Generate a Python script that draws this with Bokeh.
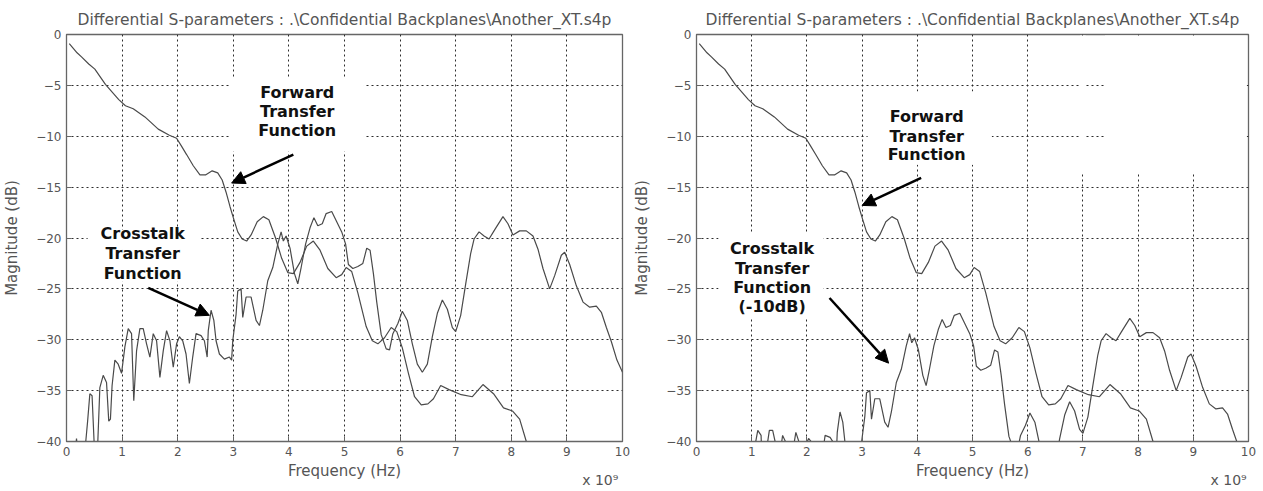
from bokeh.plotting import figure
from bokeh.layouts import row
from bokeh.models import Arrow, NormalHead, Label, FixedTicker, Range1d, LinearAxis
from bokeh.embed import file_html
from bokeh.resources import INLINE

TITLE = "Differential S-parameters : .\\Confidential Backplanes\\Another_XT.s4p"
X_LABEL = "Frequency (Hz)"
Y_LABEL = "Magnitude (dB)"
X_SCALE_NOTE = "x 10\u2079"
X_TICKS = list(range(0, 11))
Y_TICKS = list(range(-40, 1, 5))

# Forward transfer function (dB) vs frequency (GHz)
fwd_freq = [0.05, 0.19, 0.27, 0.40, 0.51, 0.70, 0.94, 1.06, 1.20, 1.41, 1.65, 1.85, 1.98,
            2.06, 2.16, 2.28, 2.40, 2.50, 2.62, 2.72, 2.80, 2.87, 2.94, 3.00, 3.08, 3.16,
            3.24, 3.32, 3.43, 3.54, 3.64, 3.76, 3.87, 3.98, 4.08, 4.20, 4.32, 4.44, 4.56,
            4.70, 4.85, 4.95, 5.03, 5.13, 5.24, 5.39, 5.50, 5.60, 5.72, 5.84, 5.94, 6.04,
            6.15, 6.26, 6.38, 6.50, 6.60, 6.73, 6.88, 7.10, 7.30, 7.49, 7.68, 7.86, 8.02,
            8.15, 8.27, 8.32]
fwd_db = [-0.9, -1.8, -2.2, -2.9, -3.4, -4.9, -6.4, -7.0, -7.3, -8.1, -9.3, -9.9, -10.2,
          -10.9, -11.8, -12.9, -13.8, -13.8, -13.4, -13.6, -14.3, -15.5, -16.9, -18.0, -19.4, -20.1,
          -20.3, -19.7, -18.4, -17.9, -18.2, -20.0, -22.0, -23.4, -23.5, -22.4, -20.8, -20.3, -21.2,
          -23.0, -23.9, -23.6, -22.9, -23.3, -25.4, -28.7, -30.1, -30.4, -29.8, -28.8, -29.2, -30.8,
          -33.3, -35.6, -36.4, -36.3, -35.8, -34.5, -34.9, -35.4, -35.6, -34.4, -35.3, -36.7, -37.0,
          -37.8, -40.0, -41.0]

# Crosstalk transfer function (dB) vs frequency (GHz)
xt_freq = [0.15, 0.18, 0.21, 0.33, 0.38, 0.42, 0.46, 0.50, 0.56, 0.60, 0.66, 0.72, 0.76,
           0.79, 0.82, 0.87, 0.93, 0.99, 1.05, 1.11, 1.17, 1.21, 1.26, 1.32, 1.38, 1.44,
           1.50, 1.56, 1.62, 1.68, 1.74, 1.80, 1.86, 1.92, 1.98, 2.03, 2.09, 2.15, 2.21,
           2.27, 2.33, 2.42, 2.48, 2.53, 2.55, 2.60, 2.65, 2.69, 2.75, 2.84, 2.93, 2.97,
           2.99, 3.05, 3.08, 3.14, 3.17, 3.23, 3.32, 3.41, 3.47, 3.53, 3.62, 3.71, 3.80,
           3.86, 3.90, 3.95, 4.02, 4.10, 4.16, 4.22, 4.30, 4.38, 4.45, 4.52, 4.60, 4.67,
           4.77, 4.86, 4.95, 5.02, 5.07, 5.15, 5.24, 5.33, 5.40, 5.46, 5.52, 5.58, 5.66,
           5.75, 5.81, 5.87, 5.96, 6.04, 6.13, 6.22, 6.31, 6.40, 6.49, 6.58, 6.67, 6.76,
           6.85, 6.94, 7.00, 7.09, 7.18, 7.27, 7.33, 7.42, 7.51, 7.60, 7.70, 7.85, 7.94,
           8.03, 8.15, 8.27, 8.39, 8.48, 8.57, 8.69, 8.78, 8.90, 8.96, 9.05, 9.17, 9.29,
           9.41, 9.53, 9.62, 9.71, 9.80, 9.90, 10.0]
xt_db = [-41.5, -39.7, -41.5, -41.0, -38.0, -35.3, -35.5, -40.5, -40.5, -34.7, -33.5, -34.2, -38.0,
         -37.8, -34.5, -32.0, -32.4, -33.3, -30.7, -28.9, -29.4, -36.0, -31.1, -28.9, -28.9, -30.4,
         -31.7, -29.4, -30.1, -33.7, -31.1, -29.1, -30.1, -32.7, -30.4, -29.7, -30.1, -31.4, -34.3,
         -31.7, -29.4, -29.6, -30.1, -31.7, -29.1, -27.1, -28.1, -30.1, -31.4, -31.9, -31.7, -32.0,
         -30.1, -27.5, -25.2, -25.0, -27.8, -25.8, -25.8, -28.1, -28.6, -27.1, -24.2, -22.9, -20.6,
         -19.4, -20.3, -19.8, -21.0, -23.5, -24.5, -22.9, -20.6, -19.0, -18.0, -18.8, -18.6, -17.6,
         -17.4, -18.4, -19.4, -20.6, -22.6, -23.0, -22.8, -22.5, -21.0, -21.2, -23.5, -26.3, -29.5,
         -30.9, -31.0, -29.4, -28.4, -27.2, -28.1, -30.4, -32.4, -33.2, -32.4, -29.7, -27.4, -26.1,
         -27.0, -28.8, -29.2, -27.6, -24.5, -21.5, -20.1, -19.4, -19.8, -20.1, -19.2, -17.9, -18.6,
         -19.7, -19.3, -19.3, -19.8, -21.1, -23.0, -25.0, -23.7, -21.7, -21.4, -22.6, -24.7, -26.3,
         -26.8, -26.7, -27.3, -28.8, -30.2, -32.0, -33.2]

XT_SHIFT_DB = -10  # right chart shows crosstalk lowered by 10 dB

FONT = "DejaVu Sans"
GRAY = "#555555"
CURVE = "#4a4a4a"


def make_panel(width, b_left, b_right, b_top, xt_values, masks, texts, arrows, note_x):
    p = figure(width=width, height=491, output_backend="svg", toolbar_location=None,
               x_range=Range1d(0, 10), y_range=Range1d(-40, 0),
               min_border_left=b_left, min_border_right=b_right,
               min_border_top=b_top, min_border_bottom=50,
               title=TITLE, background_fill_color="white", border_fill_color="white")
    p.title.align = "center"
    p.title.text_font = FONT
    p.title.text_font_size = "15.5px"
    p.title.text_font_style = "normal"
    p.title.text_color = GRAY
    p.title.standoff = 11

    p.outline_line_color = "#666666"
    p.outline_line_width = 1.3
    p.outline_line_alpha = 1.0

    for ax in (p.xaxis[0], p.yaxis[0]):
        ax.major_label_text_font = FONT
        ax.major_label_text_font_size = "12px"
        ax.major_label_text_color = GRAY
        ax.axis_label_text_font = FONT
        ax.axis_label_text_font_size = "15px"
        ax.axis_label_text_font_style = "normal"
        ax.axis_label_text_color = GRAY
        ax.major_tick_in = 5
        ax.major_tick_out = 0
        ax.minor_tick_line_color = None
        ax.axis_line_color = "#666666"
        ax.major_tick_line_color = "#666666"
        ax.major_label_standoff = 5
    p.xaxis[0].ticker = FixedTicker(ticks=X_TICKS)
    p.yaxis[0].ticker = FixedTicker(ticks=Y_TICKS)
    p.xaxis[0].axis_label = X_LABEL
    p.yaxis[0].axis_label = Y_LABEL
    p.xaxis[0].axis_label_standoff = 3
    p.yaxis[0].axis_label_standoff = 12

    # extra bottom axis carrying only the "x 10^9" scale note
    note_axis = LinearAxis(ticker=FixedTicker(ticks=[note_x]),
                           major_label_overrides={note_x: X_SCALE_NOTE},
                           axis_line_color=None, major_tick_line_color=None,
                           minor_tick_line_color=None, major_tick_in=0, major_tick_out=0,
                           major_label_standoff=-11,
                           major_label_text_font=FONT, major_label_text_font_size="14px",
                           major_label_text_color=GRAY)
    p.add_layout(note_axis, "below")

    p.xgrid[0].ticker = FixedTicker(ticks=X_TICKS)
    p.ygrid[0].ticker = FixedTicker(ticks=Y_TICKS)
    for g in (p.xgrid[0], p.ygrid[0]):
        g.grid_line_color = "#222222"
        g.grid_line_dash = "2 3"
        g.grid_line_width = 1
        g.grid_line_alpha = 0.95

    # white backgrounds behind the pasted annotation texts
    for (l, r, t, b) in masks:
        p.quad(left=l, right=r, top=t, bottom=b, fill_color="white", line_color=None)

    p.line(fwd_freq, fwd_db, line_color=CURVE, line_width=1.2)
    p.line(xt_freq, xt_values, line_color=CURVE, line_width=1.2)

    for (tx, ty, txt) in texts:
        p.add_layout(Label(x=tx, y=ty, text=txt, text_align="center", text_baseline="middle",
                           text_font=FONT, text_font_size="16px", text_font_style="bold",
                           text_color="#111111"))
    for (x0, y0, x1, y1) in arrows:
        p.add_layout(Arrow(end=NormalHead(size=13, fill_color="black", line_color="black"),
                           x_start=x0, y_start=y0, x_end=x1, y_end=y1,
                           line_width=2.5, line_color="black"))
    return p


left = make_panel(
    630, 65, 8, 34, xt_db,
    masks=[(2.95, 5.35, -4.3, -11.5), (0.38, 2.4, -19.2, -24.3)],
    texts=[(4.15, -5.7, "Forward"), (4.15, -7.57, "Transfer"), (4.15, -9.44, "Function"),
           (1.37, -19.56, "Crosstalk"), (1.37, -21.52, "Transfer"), (1.37, -23.49, "Function")],
    arrows=[(4.08, -11.8, 2.97, -14.6), (1.47, -24.9, 2.57, -27.6)],
    note_x=9.6,
)

right = make_panel(
    633, 61, 15, 33, [v + XT_SHIFT_DB for v in xt_db],
    masks=[(3.1, 5.35, -5.6, -12.8), (0.4, 2.3, -19.5, -27.8),
           (7.4, 9.97, -0.1, -13.7), (6.95, 7.05, -0.1, -13.7)],
    texts=[(4.17, -8.04, "Forward"), (4.17, -10.0, "Transfer"), (4.17, -11.76, "Function"),
           (1.37, -21.08, "Crosstalk"), (1.37, -23.04, "Transfer"), (1.37, -24.9, "Function"),
           (1.37, -26.76, "(-10dB)")],
    arrows=[(4.07, -14.1, 3.0, -16.8), (2.41, -25.9, 3.48, -32.3)],
    note_x=9.64,
)

layout = row(left, right)
open("out.html", "w").write(file_html(layout, INLINE))
